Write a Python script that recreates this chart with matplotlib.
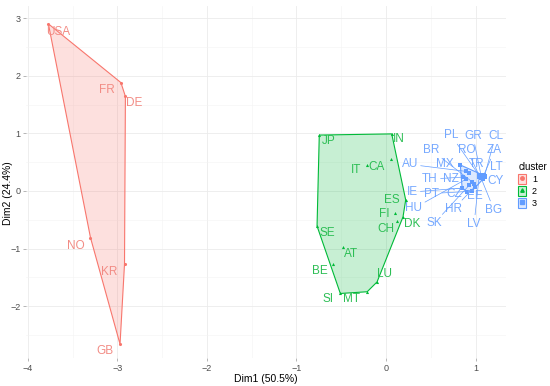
import matplotlib.pyplot as plt
from matplotlib.patches import Patch, Polygon
from matplotlib.lines import Line2D
import numpy as np

plt.rcParams['font.family'] = ['Liberation Sans', 'DejaVu Sans']

# data
countries = ['USA', 'FR', 'DE', 'NO', 'KR', 'GB',
             'JP', 'IN', 'IT', 'CA', 'ES', 'FI', 'DK', 'CH', 'SE', 'AT', 'BE', 'SI', 'MT', 'LU',
             'MX', 'BR', 'AU', 'PL', 'GR', 'CL', 'RO', 'ZA', 'TR', 'LT', 'CY', 'BG', 'LV', 'EE',
             'TH', 'NZ', 'IE', 'PT', 'CZ', 'HU', 'HR', 'SK']
dim1 = [-3.77, -2.96, -2.91, -3.30, -2.92, -2.97,
        -0.745, 0.064, -0.21, 0.056, 0.22, 0.10, 0.19, 0.126, -0.77, -0.48, -0.59, -0.51, -0.21, -0.10,
        0.83, 0.96, 0.89, 1.04, 1.06, 1.10, 1.05, 1.09, 1.07, 1.11, 1.08, 1.06, 1.04, 0.98,
        0.86, 0.93, 0.85, 0.91, 0.96, 0.89, 0.99, 0.93]
dim2 = [2.90, 1.88, 1.64, -0.81, -1.27, -2.66,
        0.97, 0.99, 0.45, 0.56, -0.156, -0.39, -0.45, -0.52, -0.61, -0.98, -1.27, -1.78, -1.75, -1.58,
        0.45, 0.16, 0.34, 0.27, 0.28, 0.26, 0.24, 0.27, 0.22, 0.25, 0.20, 0.23, 0.25, 0.12,
        0.24, 0.31, 0.05, -0.01, 0.00, 0.20, 0.07, 0.10]
cluster = [1] * 6 + [2] * 14 + [3] * 22

# label offsets in pixels (right, down) as placed by the repel layout
label_offset = {
    'USA': (10, 8), 'FR': (-14, 7), 'DE': (9, 7), 'NO': (-15, 8), 'KR': (-15, 8), 'GB': (-15, 7),
    'JP': (9, 6), 'IN': (7, 5), 'IT': (-11, 5), 'CA': (-14, 8), 'ES': (-14, 0), 'FI': (-11, 1),
    'DK': (9, 7), 'CH': (-11, 8), 'SE': (10, 7), 'AT': (8, 7), 'BE': (-13, 7), 'SI': (-12, 6),
    'MT': (-16, 7), 'LU': (7, -8),
    'MX': (-15, -1), 'BR': (-41, -32), 'AU': (-56, -7), 'PL': (-28, -40), 'GR': (-8, -39),
    'CL': (11, -40), 'RO': (-13, -27), 'ZA': (11, -25), 'TR': (-5, -14), 'LT': (11, -10),
    'CY': (13, 2), 'BG': (13, 32), 'LV': (-5, 47), 'EE': (1, 12), 'TH': (-33, 2), 'NZ': (-18, 6),
    'IE': (-50, 4), 'PT': (-36, 2), 'CZ': (-18, 3), 'HU': (-52, 29), 'HR': (-21, 22), 'SK': (-35, 38),
}

colors = {1: '#F8766D', 2: '#00BA38', 3: '#619CFF'}
text_colors = {1: '#F28C85', 2: '#2DBE55', 3: '#75A8FF'}
markers = {1: 'o', 2: '^', 3: 's'}

dim1 = np.array(dim1)
dim2 = np.array(dim2)
cluster = np.array(cluster)


def convex_hull(pts):
    pts = sorted(map(tuple, pts))
    def cross(o, a, b):
        return (a[0] - o[0]) * (b[1] - o[1]) - (a[1] - o[1]) * (b[0] - o[0])
    lower, upper = [], []
    for p in pts:
        while len(lower) >= 2 and cross(lower[-2], lower[-1], p) <= 0:
            lower.pop()
        lower.append(p)
    for p in reversed(pts):
        while len(upper) >= 2 and cross(upper[-2], upper[-1], p) <= 0:
            upper.pop()
        upper.append(p)
    return lower[:-1] + upper[:-1]


fig = plt.figure(figsize=(5.5, 3.86), dpi=100)
ax = fig.add_axes([26 / 550, 1 - 358 / 386, 480 / 550, 352 / 386])

for c in [1, 2, 3]:
    m = cluster == c
    hull = convex_hull(np.column_stack([dim1[m], dim2[m]]))
    ax.add_patch(Polygon(hull, closed=True, facecolor=colors[c], alpha=0.22, edgecolor='none', zorder=1))
    ax.add_patch(Polygon(hull, closed=True, facecolor='none', edgecolor=colors[c], lw=0.8, zorder=2))
    ax.scatter(dim1[m], dim2[m], s=5, marker=markers[c], color=colors[c], zorder=3, linewidths=0)

px2pt = 0.72
for name, x, y, c in zip(countries, dim1, dim2, cluster):
    dx, dy = label_offset[name]
    arrow = None
    if np.hypot(dx, dy) > 20:
        arrow = dict(arrowstyle='-', color=colors[c], lw=0.5, shrinkA=0, shrinkB=0)
    ax.annotate(name, xy=(x, y), xytext=(dx * px2pt, -dy * px2pt), textcoords='offset points',
                ha='center', va='center', fontsize=8.5, color=text_colors[c], arrowprops=arrow, zorder=4)

ax.set_xlim(-4.02, 1.34)
ax.set_ylim(-2.90, 3.21)
ax.set_xticks([-4, -3, -2, -1, 0, 1])
ax.set_yticks([-2, -1, 0, 1, 2, 3])
ax.set_xticks(np.arange(-3.5, 1.5, 1), minor=True)
ax.set_yticks(np.arange(-2.5, 3.5, 1), minor=True)
ax.grid(True, which='major', color='#ebebeb', lw=0.6)
ax.grid(True, which='minor', color='#f3f3f3', lw=0.4)
ax.set_axisbelow(True)
for s in ax.spines.values():
    s.set_visible(False)
ax.tick_params(which='major', length=2, width=0.5, color='#999999', labelsize=6.5, labelcolor='#4d4d4d', pad=2)
ax.tick_params(which='minor', length=0)
ax.set_xlabel('Dim1 (50.5%)', fontsize=7.5, labelpad=1)
ax.set_ylabel('Dim2 (24.4%)', fontsize=7.5)
ax.yaxis.set_label_coords(-2 / 480, 0.5, transform=None)
ax.yaxis.label.set_position((8 / 550, 0.5))
ax.yaxis.label.set_transform(fig.transFigure)
ax.yaxis.label.set_va('center')

handles = [(Patch(facecolor=colors[c], alpha=0.22, edgecolor='none'),
            Patch(facecolor='none', edgecolor=colors[c], lw=0.8),
            Line2D([], [], marker=markers[c], color=colors[c], ls='none', markersize=2.5))
           for c in [1, 2, 3]]
fig.legend(handles, ['1', '2', '3'], title='cluster', loc='center left',
           bbox_to_anchor=(512 / 550, 1 - 185 / 386), frameon=False, fontsize=6.5,
           title_fontsize=7, handlelength=0.9, handleheight=1.3, handletextpad=0.6,
           labelspacing=0.25, alignment='left', borderpad=0.2)

fig.savefig('out.png', dpi=100)
